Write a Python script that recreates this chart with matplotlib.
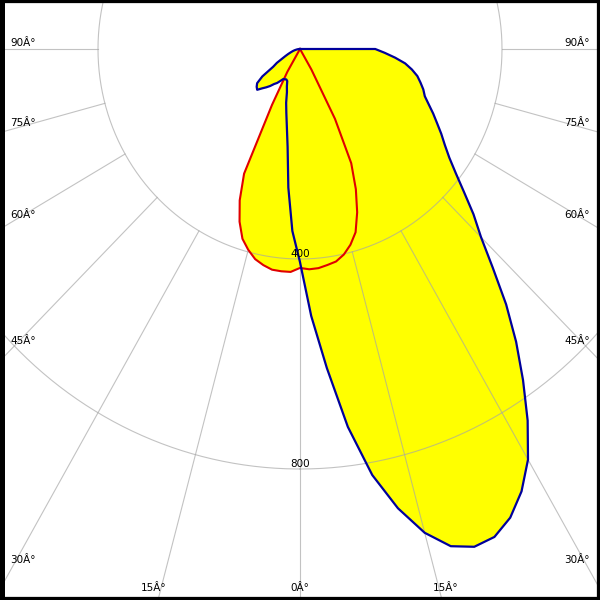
import numpy as np
import matplotlib
matplotlib.use("Agg")
import matplotlib.pyplot as plt
from matplotlib.patches import Rectangle

# gamma angles (deg), negative = left half of the diagram
gamma = np.arange(-90, 90.1, 2.5)

# C0-C180 plane (blue), cd
c0_c180 = [0, 2, 4, 6, 8, 11, 14, 17, 21, 26, 32, 40, 53, 63, 91, 107, 112, 115,
           106, 99, 92, 84, 79, 72, 66, 65, 64, 66, 76, 86, 106, 125, 150, 188,
           265, 347, 406,
           509, 610, 726, 824, 896, 954, 993, 1009, 1006, 985, 950, 903, 839, 770,
           703, 635, 565, 507, 466, 424, 389, 361, 340, 323, 306, 291, 276, 263,
           256, 247, 238, 225, 210, 189, 168, 149]

# C90-C270 plane (red), cd
c90_c270 = [0] * 24 + [50, 120, 262, 312, 350, 379, 396, 410, 418, 424, 425, 425,
                       417,
                       420, 419, 415, 411, 401, 386, 366, 331, 289, 240, 150, 45] + [0] * 24

rings = [400, 800]
spokes = [-90, -75, -60, -45, -30, -15, 0, 15, 30, 45, 60, 75, 90]


def to_xy(ang, val):
    a = np.radians(np.asarray(ang, dtype=float))
    v = np.asarray(val, dtype=float)
    return v * np.sin(a), v * np.cos(a)


fig = plt.figure(figsize=(6, 6), dpi=100)
ax = fig.add_axes([0, 0, 1, 1])
xmax = 300 / 0.505
ax.set_xlim(-xmax, xmax)
ax.set_ylim(551 / 0.525, -49 / 0.525)
ax.axis("off")

# filled curves
bx, by = to_xy(gamma, c0_c180)
rx, ry = to_xy(gamma, c90_c270)
ax.fill(np.r_[0, bx, 0], np.r_[0, by, 0], color="#ffff00", lw=0, zorder=1)
ax.fill(np.r_[0, rx, 0], np.r_[0, ry, 0], color="#ffff00", lw=0, zorder=1)

# grid
grid_kw = dict(color="#a5a5a5", alpha=0.67, lw=0.8, zorder=2)
t = np.linspace(0, 360, 721)
for r in rings:
    gx, gy = to_xy(t, np.full_like(t, r))
    ax.plot(gx, gy, **grid_kw)
for s in spokes:
    sx, sy = to_xy([s, s], [rings[0], 3000])
    ax.plot(sx, sy, **grid_kw)

# curves
ax.plot(np.r_[0, rx, 0], np.r_[0, ry, 0], color="#e00000", lw=1.5, zorder=3)
ax.plot(np.r_[0, bx, 0], np.r_[0, by, 0], color="#00009c", lw=1.6, zorder=4)

# labels
fs = 7.5
for r in rings:
    ax.annotate(str(r), (0, r), xytext=(0, 2), textcoords="offset pixels",
                ha="center", va="baseline", fontsize=fs, zorder=5)
xl = 287 / 0.505
for s in [30, 45, 60, 75, 90]:
    y = xl / np.tan(np.radians(s))
    lab = "%dÂ°" % s
    ax.annotate(lab, (-xl, y), xytext=(-3, 3), textcoords="offset pixels",
                ha="left", va="baseline", fontsize=fs, zorder=5)
    ax.annotate(lab, (xl, y), xytext=(3, 3), textcoords="offset pixels",
                ha="right", va="baseline", fontsize=fs, zorder=5)
yb = (588 - 49) / 0.525
for s in [-15, 0, 15]:
    x = yb * np.tan(np.radians(s))
    ax.annotate("%dÂ°" % abs(s), (x, yb), xytext=(np.sign(s) * 7, 0),
                textcoords="offset pixels", ha="center", va="center",
                fontsize=fs, zorder=5)

fig.patches.append(Rectangle((0, 0), 1, 1, transform=fig.transFigure,
                             fill=False, edgecolor="black", lw=4.5))
fig.patches.append(Rectangle((0, 0), 5 / 600, 1, transform=fig.transFigure,
                             color="black", lw=0))

fig.savefig("out.png", dpi=100)
